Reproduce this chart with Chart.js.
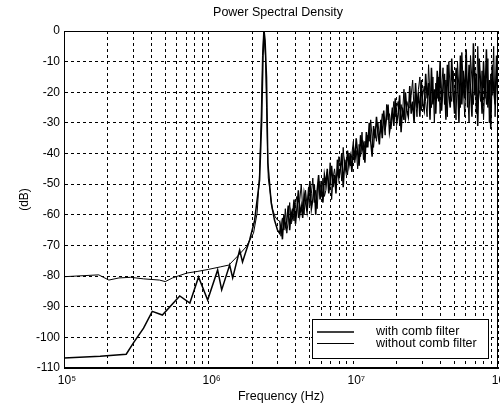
<!DOCTYPE html>
<html>
<head>
<meta charset="utf-8">
<script src="https://cdn.jsdelivr.net/npm/chart.js@4/dist/chart.umd.min.js"></script>
<style>
  body { margin: 0; background: #fff; }
  canvas { display: block; }
</style>
</head>
<body>
<canvas id="psdChart" width="500" height="411"></canvas>
<script>
// frequency is kept as log10(Hz), level in dB
const withExp = [5.00, 5.25, 5.43, 5.48, 5.55, 5.61, 5.68, 5.80, 5.87, 5.93, 5.993, 6.062, 6.09, 6.145, 6.166, 6.214, 6.234, 6.283, 6.317, 6.352, 6.366, 6.376, 6.383, 6.39, 6.40, 6.409, 6.432, 6.455, 6.476]
const withDb  = [-106.7, -106.2, -105.5, -101.8, -97, -91.5, -92.7, -86.5, -88.8, -80.3, -87.8, -78, -84.5, -76.4, -80.6, -71.5, -75.4, -68.2, -62, -48.6, -30, -8, 0, -3, -15, -43, -56, -61.7, -65]

const withoutExp = [5.00, 5.24, 5.31, 5.38, 5.46, 5.55, 5.66, 5.70, 5.75, 5.85, 5.92, 6.00, 6.08, 6.14, 6.22, 6.26, 6.31, 6.335, 6.35, 6.362, 6.372, 6.38, 6.392, 6.40, 6.412, 6.44, 6.46, 6.476]
const withoutDb  = [-80.2, -79.6, -81.3, -80.6, -80.4, -80.9, -81.3, -81.8, -80.6, -79, -78.5, -77.8, -77, -76.4, -72.5, -70.4, -66, -59.4, -48, -30, -8, 0, -8, -25, -48, -58, -60.7, -61.7]

// noisy part above the resonance, both curves overlap here
const noiseExp = [
  6.49, 6.50, 6.51, 6.52, 6.53, 6.54, 6.55, 6.56, 6.57, 6.58,
  6.59, 6.60, 6.61, 6.62, 6.63, 6.64, 6.65, 6.66, 6.67, 6.68,
  6.69, 6.70, 6.71, 6.72, 6.73, 6.74, 6.75, 6.76, 6.77, 6.78,
  6.79, 6.80, 6.81, 6.82, 6.83, 6.84, 6.85, 6.86, 6.87, 6.88,
  6.89, 6.90, 6.91, 6.92, 6.93, 6.94, 6.95, 6.96, 6.97, 6.98,
  6.99, 7.00, 7.01, 7.02, 7.03, 7.04, 7.05, 7.06, 7.07, 7.08,
  7.09, 7.10, 7.11, 7.12, 7.13, 7.14, 7.15, 7.16, 7.17, 7.18,
  7.19, 7.20, 7.21, 7.22, 7.23, 7.24, 7.25, 7.26, 7.27, 7.28,
  7.29, 7.30, 7.31, 7.32, 7.33, 7.34, 7.35, 7.36, 7.37, 7.38,
  7.39, 7.40, 7.41, 7.42, 7.43, 7.44, 7.45, 7.46, 7.47, 7.48,
  7.49, 7.50, 7.51, 7.52, 7.53, 7.54, 7.55, 7.56, 7.57, 7.58,
  7.59, 7.60, 7.61, 7.62, 7.63, 7.64, 7.65, 7.66, 7.67, 7.68,
  7.69, 7.70, 7.71, 7.72, 7.73, 7.74, 7.75, 7.76, 7.77, 7.78,
  7.79, 7.80, 7.81, 7.82, 7.83, 7.84, 7.85, 7.86, 7.87, 7.88,
  7.89, 7.90, 7.91, 7.92, 7.93, 7.94, 7.95, 7.96, 7.97, 7.98, 7.99, 8.00
]
const noiseWithDb = [
  -66, -63, -68, -60, -64, -62, -57, -65, -59, -61,
  -55, -63, -58, -52, -60, -57, -61, -53, -56, -59,
  -54, -49, -58, -55, -50, -60, -52, -47, -55, -51,
  -56, -47, -50, -45, -53, -49, -44, -51, -47, -53,
  -42, -48, -45, -40, -51, -43, -46, -39, -44, -41,
  -46, -38, -42, -35, -40, -44, -34, -39, -37, -43,
  -33, -38, -30, -36, -41, -31, -35, -28, -33, -37,
  -29, -35, -26, -32, -28, -24, -33, -30, -25, -31,
  -22, -30, -27, -21, -33, -25, -29, -20, -26, -28,
  -18, -27, -23, -30, -17, -25, -20, -28, -16, -24,
  -26, -14, -22, -17, -29, -12, -24, -19, -27, -13,
  -23, -10, -26, -18, -14, -29, -11, -21, -25, -9,
  -20, -27, -12, -16, -30, -8, -24, -13, -22, -6,
  -25, -11, -19, -28, -4, -21, -14, -31, -9, -17,
  -27, -10, -22, -6, -25, -16, -32, -11, -19, -24, -8, -20
]
const noiseWithoutDb = [
  -62, -67, -61, -65, -58, -66, -62, -56, -63, -58,
  -62, -56, -54, -61, -55, -50, -58, -60, -52, -57,
  -51, -57, -53, -48, -56, -52, -58, -50, -49, -54,
  -48, -54, -52, -46, -50, -43, -55, -48, -45, -49,
  -47, -41, -44, -49, -38, -45, -42, -47, -40, -44,
  -40, -36, -43, -39, -45, -37, -41, -33, -42, -36,
  -38, -34, -36, -29, -35, -38, -32, -36, -30, -34,
  -32, -27, -30, -34, -24, -29, -27, -32, -28, -23,
  -28, -25, -23, -31, -24, -27, -19, -30, -23, -25,
  -25, -21, -16, -26, -22, -28, -19, -15, -26, -21,
  -18, -23, -28, -11, -21, -25, -15, -30, -17, -22,
  -15, -27, -19, -12, -24, -16, -28, -10, -20, -23,
  -13, -22, -29, -10, -19, -25, -7, -18, -28, -14,
  -20, -30, -8, -16, -24, -12, -27, -5, -19, -23,
  -13, -29, -17, -24, -9, -30, -14, -21, -5, -28, -15, -22
]

const decadeTicks = [1e5, 1e6, 1e7, 1e8]
const decadeLabels = ['10\u2075', '10\u2076', '10\u2077', '10\u2078']
const gridMultipliers = [1, 2, 3, 4, 5, 6, 7, 8, 9]
const seriesNames = ['with comb filter', 'without comb filter']
const chartTitle = 'Power Spectral Density'

function toPoints(exps, dbs) {
  return exps.map((e, i) => ({ x: Math.pow(10, e), y: dbs[i] }))
}

const withPts = toPoints(withExp.concat(noiseExp), withDb.concat(noiseWithDb))
const withoutPts = toPoints(withoutExp.concat(noiseExp), withoutDb.concat(noiseWithoutDb))

const FONT = '"Liberation Sans", Arial, sans-serif'
Chart.defaults.font.family = FONT
Chart.defaults.font.size = 12
Chart.defaults.color = '#000'

// title over the axes, box frame, decade labels, legend inside the axes
const decor = {
  id: 'decor',
  afterDraw(chart) {
    const ctx = chart.ctx
    const a = chart.chartArea
    const xs = chart.scales.x
    ctx.save()
    ctx.strokeStyle = '#000'
    ctx.lineWidth = 1
    ctx.setLineDash([])
    ctx.strokeRect(a.left + 0.5, a.top + 0.5, a.right - a.left - 1, a.bottom - a.top - 1)

    ctx.fillStyle = '#000'
    ctx.textBaseline = 'middle'
    ctx.textAlign = 'center'
    ctx.font = '12.5px ' + FONT
    ctx.fillText(chartTitle, (a.left + a.right) / 2 - 3, 13)

    ctx.font = '12px ' + FONT
    decadeTicks.forEach((v, i) => {
      ctx.fillText(decadeLabels[i], xs.getPixelForValue(v) + 3, a.bottom + 13)
    })

    // legend
    const bx = a.right - 186, by = a.bottom - 49, bw = 176, bh = 39
    ctx.fillStyle = '#fff'
    ctx.fillRect(bx, by, bw, bh)
    ctx.strokeRect(bx + 0.5, by + 0.5, bw, bh)
    ctx.lineWidth = 1.5
    ctx.beginPath(); ctx.moveTo(bx + 5, by + 13); ctx.lineTo(bx + 42, by + 13); ctx.stroke()
    ctx.lineWidth = 1
    ctx.beginPath(); ctx.moveTo(bx + 5, by + 24.5); ctx.lineTo(bx + 42, by + 24.5); ctx.stroke()
    ctx.fillStyle = '#000'
    ctx.textAlign = 'left'
    ctx.font = '12.5px ' + FONT
    ctx.fillText(seriesNames[0], bx + 64, by + 13)
    ctx.fillText(seriesNames[1], bx + 64, by + 25)
    ctx.restore()
  }
}

const chart = new Chart(document.getElementById('psdChart'), {
  type: 'line',
  data: {
    datasets: [{
      label: seriesNames[0],
      data: withPts,
      borderColor: '#000',
      borderWidth: 1.5,
      pointRadius: 0,
      tension: 0
    }, {
      label: seriesNames[1],
      data: withoutPts,
      borderColor: '#000',
      borderWidth: 1,
      pointRadius: 0,
      tension: 0
    }]
  },
  options: {
    responsive: false,
    animation: false,
    layout: { padding: { left: 0, right: 2, top: 31, bottom: 0 } },
    plugins: {
      legend: { display: false },
      tooltip: { enabled: false },
      title: { display: false }
    },
    scales: {
      x: {
        type: 'logarithmic',
        min: 1e5,
        max: 1e8,
        afterBuildTicks(scale) {
          const t = []
          for (let d = 0; d < 3; d++) {
            gridMultipliers.forEach(m => t.push({ value: m * decadeTicks[d] }))
          }
          t.push({ value: decadeTicks[3] })
          scale.ticks = t
        },
        afterFit(scale) { scale.height = 43 },
        ticks: { display: false },
        grid: { color: '#000', lineWidth: 1, drawTicks: false },
        border: { display: true, color: '#000', dash: [3, 3] },
        title: {
          display: true,
          text: 'Frequency (Hz)',
          color: '#000',
          font: { size: 12.5 },
          padding: { top: 0, bottom: 7 }
        }
      },
      y: {
        min: -110,
        max: 0,
        afterFit(scale) { scale.width = 64 },
        ticks: { stepSize: 10, padding: 4, color: '#000' },
        grid: { color: '#000', lineWidth: 1, drawTicks: false },
        border: { display: true, color: '#000', dash: [3, 3] },
        title: {
          display: true,
          text: '(dB)',
          color: '#000',
          font: { size: 12 },
          padding: { top: 17, bottom: 0 }
        }
      }
    }
  },
  plugins: [decor]
})
</script>
</body>
</html>
